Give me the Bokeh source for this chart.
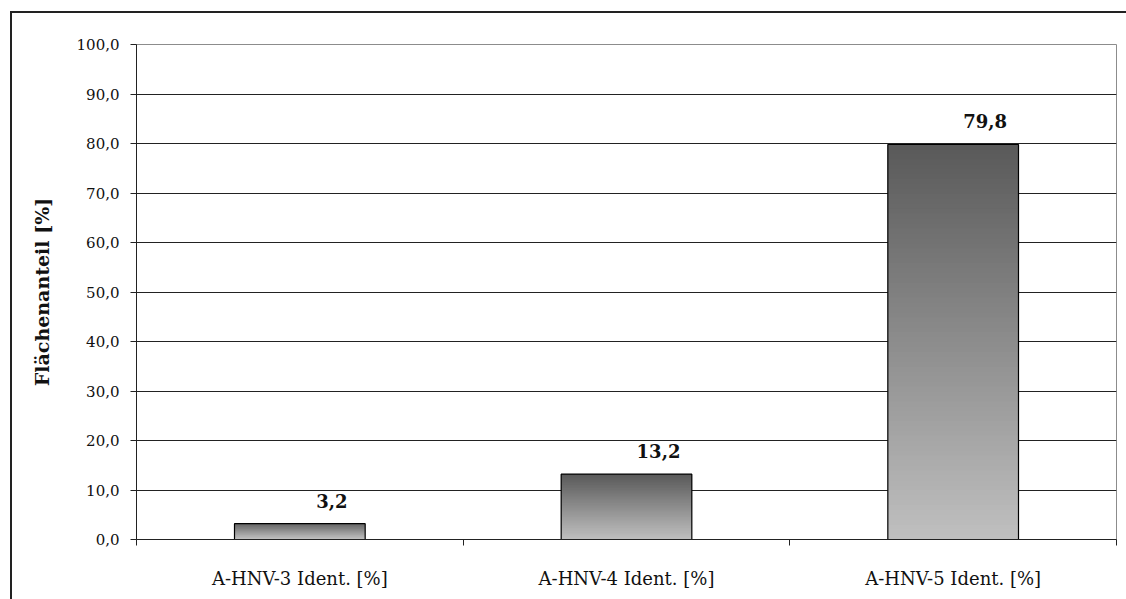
from bokeh.plotting import figure
from bokeh.models import ColumnDataSource, FixedTicker, Range1d
from bokeh.core.properties import value
from bokeh.embed import file_html
from bokeh.resources import INLINE

categories = ["A-HNV-3 Ident. [%]", "A-HNV-4 Ident. [%]", "A-HNV-5 Ident. [%]"]
values = [3.2, 13.2, 79.8]
value_labels = ["3,2", "13,2", "79,8"]
y_ticks = [0, 10, 20, 30, 40, 50, 60, 70, 80, 90, 100]
y_tick_labels = ["0,0", "10,0", "20,0", "30,0", "40,0", "50,0", "60,0", "70,0", "80,0", "90,0", "100,0"]

FONT = "DejaVu Serif"
BAR_W = 0.40
centers = [i + 0.5 for i in range(len(categories))]

p = figure(width=1116, height=588, margin=(11, 0, 0, 10),
           x_range=Range1d(0, 3), y_range=Range1d(0, 100),
           output_backend="svg", toolbar_location=None,
           min_border_left=124, min_border_right=12,
           min_border_top=31, min_border_bottom=62)
p.styles = {"border-left": "2px solid #222", "border-top": "2px solid #222"}
p.background_fill_color = "white"
p.border_fill_color = "white"
p.outline_line_color = "#8c8c8c"
p.outline_line_width = 1

# bars with a vertical grey gradient, built from overlapping thin slices
N = 80
left, right, bottom, top, colors = [], [], [], [], []
top_rgb, bot_rgb = 89, 192
for c, v in zip(centers, values):
    step = v / N
    for k in range(N):
        t = (k + 0.5) / N
        g = int(round(bot_rgb + (top_rgb - bot_rgb) * t))
        left.append(c - BAR_W / 2)
        right.append(c + BAR_W / 2)
        bottom.append(step * k)
        top.append(min(v, step * (k + 2)))
        colors.append("#%02x%02x%02x" % (g, g, g))
p.quad(left=left, right=right, bottom=bottom, top=top,
       fill_color=colors, line_color=None)
p.quad(left=[c - BAR_W / 2 for c in centers], right=[c + BAR_W / 2 for c in centers],
       bottom=0, top=values, fill_color=None, line_color="black", line_width=1.2)

src = ColumnDataSource(dict(x=centers, y=values, t=value_labels))
p.text(x="x", y="y", text="t", source=src, x_offset=32, y_offset=-23,
       text_align="center", text_baseline="alphabetic",
       text_font=value(FONT), text_font_size="18px",
       text_font_style="bold", text_color="#111")

# grid
p.xgrid.visible = False
p.ygrid.ticker = FixedTicker(ticks=y_ticks[1:-1])
p.ygrid.grid_line_color = "#222"
p.ygrid.grid_line_width = 1

# y axis
p.yaxis.ticker = FixedTicker(ticks=y_ticks)
p.yaxis.major_label_overrides = {v: s for v, s in zip(y_ticks, y_tick_labels)}
p.yaxis.axis_label = "Flächenanteil [%]"
p.yaxis.axis_label_text_font = FONT
p.yaxis.axis_label_text_font_size = "19px"
p.yaxis.axis_label_text_font_style = "bold"
p.yaxis.axis_label_text_color = "#111"
p.yaxis.axis_label_standoff = 21
p.yaxis.major_label_text_font = FONT
p.yaxis.major_label_text_font_size = "15px"
p.yaxis.major_label_text_color = "#111"
p.yaxis.major_label_standoff = 11
p.yaxis.major_tick_in = 0
p.yaxis.major_tick_out = 6
p.yaxis.minor_tick_line_color = None
p.yaxis.axis_line_color = "#222"
p.yaxis.major_tick_line_color = "#222"

# x axis: labels at category centres, ticks at category boundaries
p.xaxis.ticker = FixedTicker(ticks=centers, minor_ticks=[0, 1, 2, 3])
p.xaxis.major_label_overrides = {c: s for c, s in zip(centers, categories)}
p.xaxis.major_label_text_font = FONT
p.xaxis.major_label_text_font_size = "18px"
p.xaxis.major_label_text_color = "#111"
p.xaxis.major_label_standoff = 22
p.xaxis.major_tick_in = 0
p.xaxis.major_tick_out = 0
p.xaxis.minor_tick_in = 0
p.xaxis.minor_tick_out = 6
p.xaxis.minor_tick_line_color = "#222"
p.xaxis.axis_line_color = "#222"

open("out.html", "w").write(file_html(p, INLINE))
